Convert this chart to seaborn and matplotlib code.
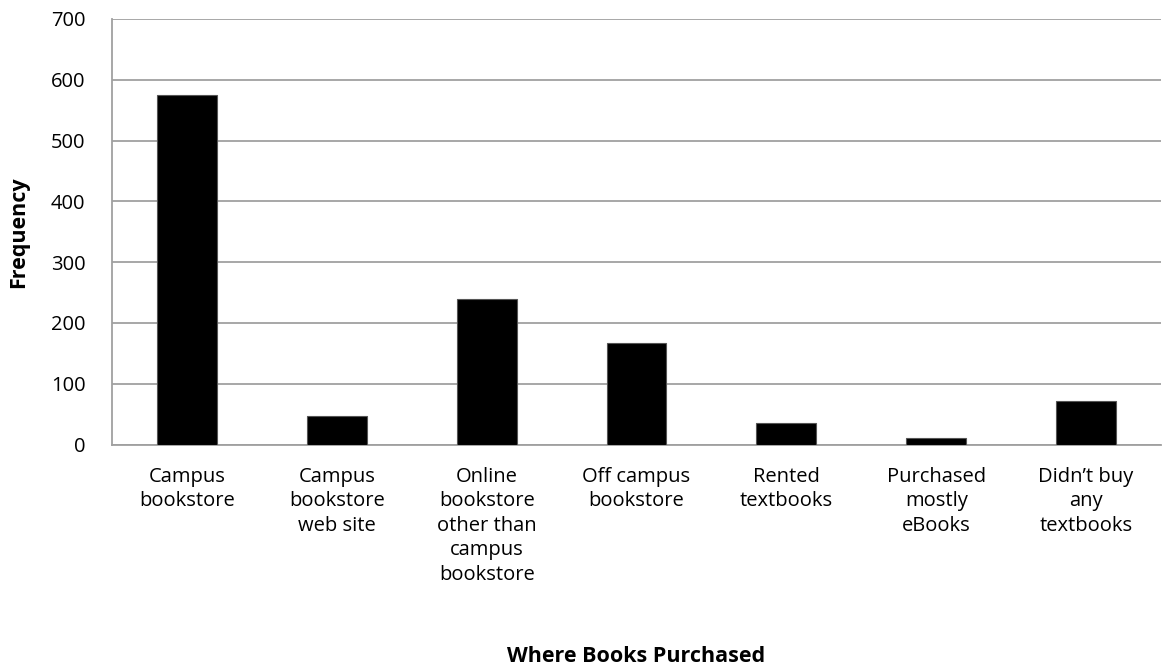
import matplotlib
matplotlib.use("Agg")
import matplotlib.pyplot as plt
import seaborn as sns
import pandas as pd
from matplotlib.ticker import FixedLocator

categories = ["Campus\nbookstore", "Campus\nbookstore\nweb site",
              "Online\nbookstore\nother than\ncampus\nbookstore",
              "Off campus\nbookstore", "Rented\ntextbooks",
              "Purchased\nmostly\neBooks", "Didn\u2019t buy\nany\ntextbooks"]
frequency = [575, 47, 239, 167, 35, 11, 71]
y_ticks = [0, 100, 200, 300, 400, 500, 600, 700]

sns.set_style("white")
plt.rcParams['font.family'] = ['Open Sans', 'DejaVu Sans']
plt.rcParams['text.color'] = 'black'
plt.rcParams['axes.labelcolor'] = 'black'
plt.rcParams['xtick.labelcolor'] = 'black'
plt.rcParams['ytick.labelcolor'] = 'black'

df = pd.DataFrame({"cat": categories, "freq": frequency})

fig = plt.figure(figsize=(11.62, 6.69), dpi=100)
ax = fig.add_axes([112/1162, 1-444.5/669, 1049/1162, (444.5-19)/669])

sns.barplot(data=df, x="cat", y="freq", color="black", width=0.4,
            edgecolor="#555555", linewidth=0.8, saturation=1, ax=ax, zorder=3)

ax.set_ylim(0, 700)
ax.set_xlim(-0.5, len(categories) - 0.5)
ax.set_yticks(y_ticks)
ax.set_yticklabels([str(v) for v in y_ticks], fontsize=14.5)
ax.yaxis.grid(True, color="#a0a0a0", linewidth=1.3, zorder=0)
ax.set_axisbelow(True)

ax.tick_params(axis="x", which="major", length=0, pad=16, labelsize=14.5)
ax.xaxis.set_minor_locator(FixedLocator([i - 0.5 for i in range(len(categories) + 1)]))
ax.tick_params(axis="x", which="minor", length=7, width=1.3, color="#a0a0a0", direction="out")
ax.tick_params(axis="y", length=7, width=1.3, color="#a0a0a0", direction="out", pad=12)
for lbl in ax.get_xticklabels():
    lbl.set_linespacing(1.3)
    lbl.set_verticalalignment("top")

for s in ["top", "right"]:
    ax.spines[s].set_visible(False)
for s in ["left", "bottom"]:
    ax.spines[s].set_color("#a0a0a0")
    ax.spines[s].set_linewidth(1.3)

ax.set_ylabel("Frequency", fontsize=15.5, fontweight="bold", labelpad=16)
ax.set_xlabel("Where Books Purchased", fontsize=15.5, fontweight="bold", labelpad=44)

fig.savefig("out.png", dpi=100)
